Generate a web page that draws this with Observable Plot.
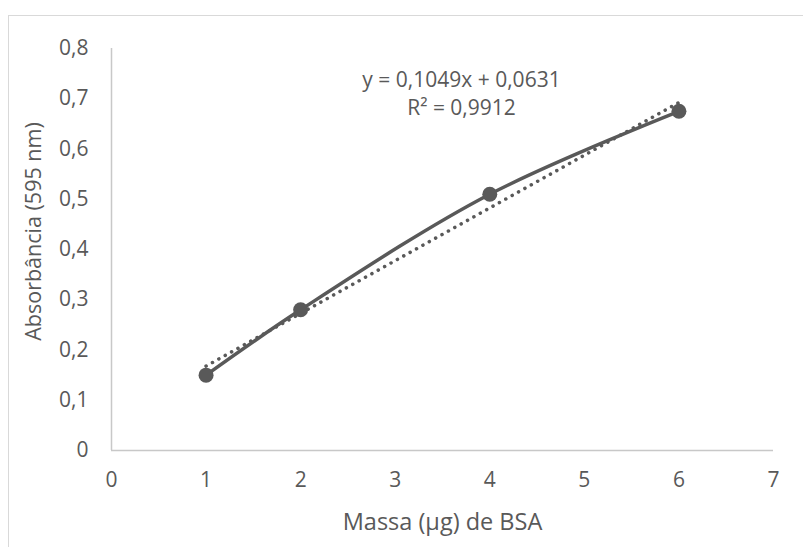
<!DOCTYPE html>
<html>
<head>
<meta charset="utf-8">
<script src="https://cdn.jsdelivr.net/npm/d3@7"></script>
<script src="https://cdn.jsdelivr.net/npm/@observablehq/plot@0.6"></script>
<style>
  html, body { margin: 0; padding: 0; background: #fff; }
  #wrap { position: relative; width: 803px; height: 547px; overflow: hidden; }
  #border { position: absolute; left: 8px; top: 15px; width: 900px; height: 700px;
            border-left: 1.5px solid #d9d9d9; border-top: 1.5px solid #d9d9d9; pointer-events: none; }
</style>
</head>
<body>
<div id="wrap"><div id="border"></div></div>
<script>
// Data
const massa = [1, 2, 4, 6];
const absorbancia = [0.15, 0.28, 0.51, 0.675];
const xTicks = [0, 1, 2, 3, 4, 5, 6, 7];
const yTicks = [0, 0.1, 0.2, 0.3, 0.4, 0.5, 0.6, 0.7, 0.8];
const slope = 0.1049;
const intercept = 0.0631;
const trendX = [1, 6];
const eqLines = ["y = 0,1049x + 0,0631", "R² = 0,9912"];
const xLabel = "Massa (µg) de BSA";
const yLabel = "Absorbância (595 nm)";

const points = massa.map((m, i) => ({x: m, y: absorbancia[i]}));
const trend = trendX.map(x => ({x, y: slope * x + intercept}));
const comma = d => String(d).replace(".", ",");

const grey = "#595959";
const font = "'Open Sans', sans-serif";

const chart = Plot.plot({
  width: 803,
  height: 547,
  marginLeft: 111,
  marginRight: 30,
  marginTop: 48,
  marginBottom: 97,
  style: {fontFamily: font, fontSize: "21px", color: grey, background: "transparent", overflow: "visible"},
  x: {domain: [0, 7]},
  y: {domain: [0, 0.8]},
  marks: [
    Plot.ruleY([0], {stroke: "#c8c8c8", strokeWidth: 1.5}),
    Plot.ruleX([0], {stroke: "#c8c8c8", strokeWidth: 1.5}),
    Plot.axisX({ticks: xTicks, tickSize: 0, tickPadding: 22, tickFormat: comma, label: null, fill: grey, fontSize: 21}),
    Plot.axisY({ticks: yTicks, tickSize: 0, tickPadding: 23, tickFormat: comma, label: null, fill: grey, fontSize: 21}),
    Plot.line(trend, {x: "x", y: "y", stroke: grey, strokeWidth: 3.5, strokeDasharray: "0.1 7.2", strokeLinecap: "round"}),
    Plot.line(points, {x: "x", y: "y", stroke: grey, strokeWidth: 3.5, curve: "catmull-rom"}),
    Plot.dot(points, {x: "x", y: "y", r: 7.5, fill: grey, stroke: null}),
    Plot.text([eqLines[0]], {frameAnchor: "top", dx: 19, dy: 32, lineAnchor: "middle", fill: grey, fontSize: 21}),
    Plot.text([eqLines[1]], {frameAnchor: "top", dx: 19, dy: 60, lineAnchor: "middle", fill: grey, fontSize: 21}),
    Plot.text([xLabel], {frameAnchor: "bottom", dy: 72, lineAnchor: "middle", fill: grey, fontSize: 23.5}),
    Plot.text([yLabel], {frameAnchor: "left", dx: -77, dy: -18, rotate: -90, textAnchor: "middle", lineAnchor: "middle", fill: grey, fontSize: 21.5})
  ]
});
chart.style.position = "absolute";
chart.style.left = "0";
chart.style.top = "0";
document.getElementById("wrap").appendChild(chart);
</script>
</body>
</html>
